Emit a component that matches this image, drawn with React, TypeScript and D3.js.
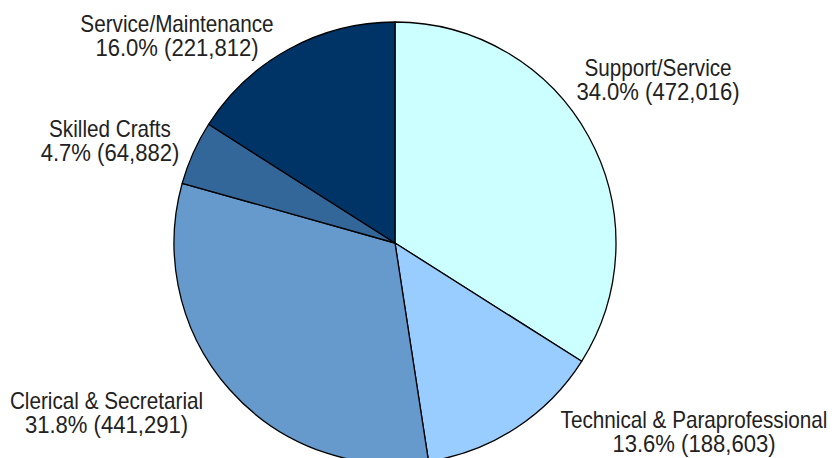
import React from "react";
import * as d3 from "d3";

const categories = [
  "Support/Service",
  "Technical & Paraprofessional",
  "Clerical & Secretarial",
  "Skilled Crafts",
  "Service/Maintenance",
];
const values = [472016, 188603, 441291, 64882, 221812];
const percentLabels = ["34.0%", "13.6%", "31.8%", "4.7%", "16.0%"];
const colors = ["#CCFFFF", "#99CCFF", "#6699CC", "#336699", "#003366"];

// label anchor positions (center x, first baseline y)
const labelPos: [number, number][] = [
  [658, 76],
  [694, 428],
  [106.5, 409],
  [110, 137],
  [177, 32],
];

const W = 836;
const H = 458;
const cx = 395;
const cy = 243;
const R = 221;

export default function App() {
  const pie = d3.pie<number>().sort(null).value((d) => d);
  const arcs = pie(values);
  const arc = d3.arc<d3.PieArcDatum<number>>().innerRadius(0).outerRadius(R);
  const fmt = d3.format(",");
  const font = "'Liberation Sans', Arial, sans-serif";
  return (
    <svg width={W} height={H} style={{ position: "absolute", left: 0, top: 0 }}>
      <rect width={W} height={H} fill="#fff" />
      <g transform={`translate(${cx},${cy})`}>
        {arcs.map((a, i) => (
          <path key={i} d={arc(a) || ""} fill={colors[i]} stroke="#000" strokeWidth={1.3} strokeLinejoin="round" />
        ))}
      </g>
      {categories.map((c, i) => (
        <g key={c}>
          <g transform={`translate(${labelPos[i][0]},${labelPos[i][1]}) scale(0.9,1)`}>
            <text x={0} y={0} textAnchor="middle" fontFamily={font} fontSize={23} fill="#222">{c}</text>
          </g>
          <g transform={`translate(${labelPos[i][0]},${labelPos[i][1] + 24.3}) scale(0.96,1)`}>
            <text x={0} y={0} textAnchor="middle" fontFamily={font} fontSize={23} fill="#222">
              {`${percentLabels[i]} (${fmt(values[i])})`}
            </text>
          </g>
        </g>
      ))}
    </svg>
  );
}
